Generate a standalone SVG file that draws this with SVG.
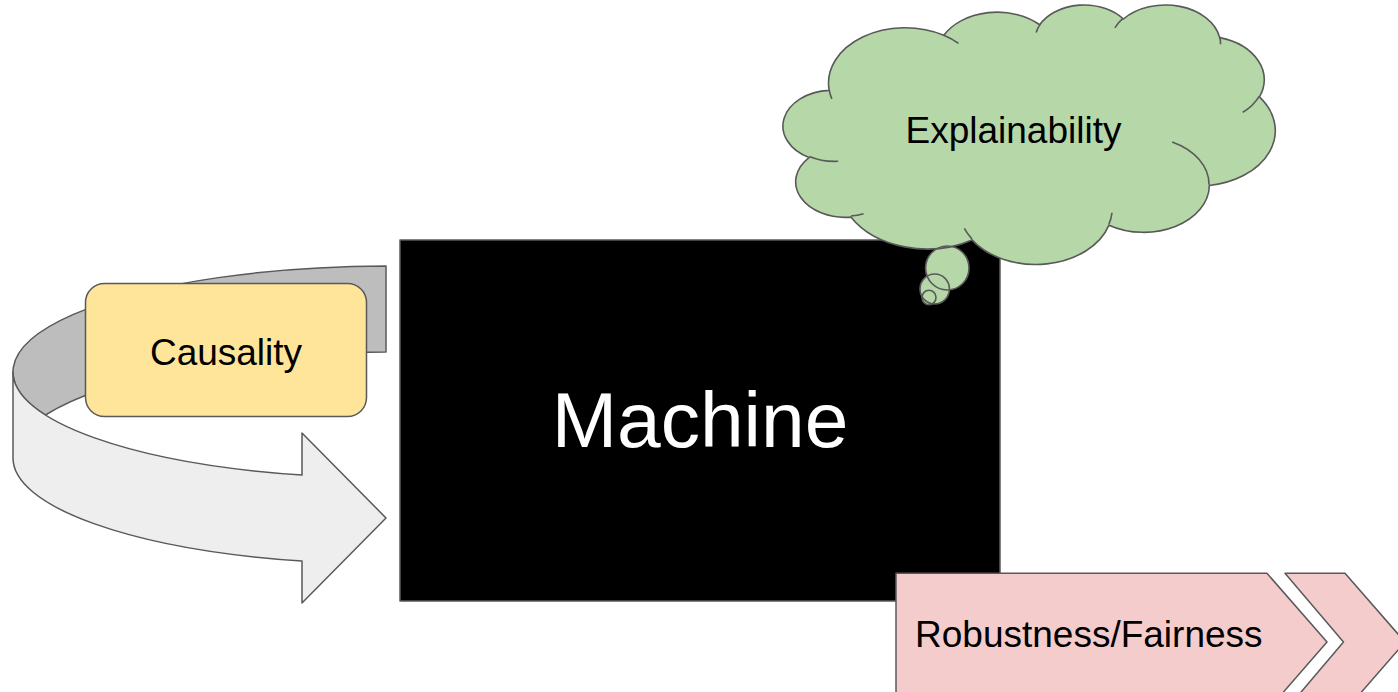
<svg xmlns="http://www.w3.org/2000/svg" width="1398" height="692" viewBox="0 0 1398 692">
  <style>
    .ln { stroke: #595959; stroke-width: 1.5; stroke-linejoin: round; }
    .lbl { font-family: "Liberation Sans", Arial, sans-serif; font-size: 37px; fill: #000000; }
    .cl { fill: #b6d7a8; }
    .cls { fill: none; stroke: #595959; stroke-width: 1.6; }
  </style>
  <rect x="0" y="0" width="1398" height="692" fill="#ffffff"/>

  <g id="connectors">
    <path class="ln" fill="#bdbdbd" d="M386,266 A377,106 0 0 0 45.4,415 A377,106 0 0 1 386,352 Z"/>
    <path class="ln" fill="#eeeeee" d="M13,372 A377,106 0 0 0 302,475.1 L302,433 L386,518 L302,603 L302,561.1 A377,106 0 0 1 13,458 Z"/>
  </g>

  <g id="causality">
    <rect class="ln" x="85.5" y="283.5" width="281" height="133" rx="19" ry="19" fill="#ffe599"/>
    <text class="lbl" x="226" y="364.5" text-anchor="middle">Causality</text>
  </g>

  <g id="machine">
    <rect class="ln" x="400" y="240" width="600" height="361" fill="#000000"/>
    <text x="700" y="447" text-anchor="middle" font-family="'Liberation Sans', Arial, sans-serif" font-size="78.5" fill="#ffffff">Machine</text>
  </g>

  <g id="explainability">
    <g transform="translate(785,4.1) scale(0.011343,0.006005)">
      <path id="cloudShape" class="cl" d="M3900,14370 A6753,9190 0 0 1 14005.6,5202.5 A5333,7267 0 0 1 22460.1,3434.5 A4365,5945 0 0 1 29837.4,2483.4 A4857,6595 0 0 1 38322.9,5578.2 A5333,7273 0 0 1 41823.3,15462 A6775,9220 0 0 1 37408.5,30203.7 A5785,7867 0 0 1 28560.8,36814.5 A6752,9215 0 0 1 16486.2,39266.1 A7720,10543 0 0 1 5809,35471.3 A4360,5918 0 0 1 2117.1,25550.5 A4345,5945 0 0 1 3900,14370 Z"/>
    </g>
    <ellipse class="cl" cx="947.3" cy="268" rx="21.7" ry="22"/>
    <ellipse class="cl" cx="934.7" cy="289" rx="14.7" ry="15"/>
    <ellipse class="cl" cx="929" cy="297.5" rx="7" ry="7.3"/>
    <g transform="translate(785,4.1) scale(0.011343,0.006005)">
      <path class="cls" vector-effect="non-scaling-stroke" d="M3900,14370 A6753,9190 0 0 1 14005.6,5202.5 A5333,7267 0 0 1 22460.1,3434.5 A4365,5945 0 0 1 29837.4,2483.4 A4857,6595 0 0 1 38322.9,5578.2 A5333,7273 0 0 1 41823.3,15462 A6775,9220 0 0 1 37408.5,30203.7 A5785,7867 0 0 1 28560.8,36814.5 A6752,9215 0 0 1 16486.2,39266.1 A7720,10543 0 0 1 5809,35471.3 A4360,5918 0 0 1 2117.1,25550.5 A4345,5945 0 0 1 3900,14370 Z"/>
      <path class="cls" vector-effect="non-scaling-stroke" d="M4693,26177 A4345,5945 0 0 1 2160,25380 M6928,34899 A4360,5918 0 0 1 5819,35281 M16478,39090 A6752,9215 0 0 1 15808,37346 M28827,34751 A6752,9215 0 0 1 28560,36661 M34129,22954 A5785,7867 0 0 1 37381,30090 M41798,15354 A5333,7273 0 0 1 40349,18031 M38324,5426 A4857,6595 0 0 1 38400,6690 M29078,3952 A4857,6595 0 0 1 29820,2340 M22141,4720 A4365,5945 0 0 1 22500,3330 M14000,5192 A6753,9190 0 0 1 15300,6540 M4127,15789 A6753,9190 0 0 1 3900,14371"/>
    </g>
    <ellipse class="cls" cx="947.3" cy="268" rx="21.7" ry="22"/>
    <ellipse class="cls" cx="934.7" cy="289" rx="14.7" ry="15"/>
    <ellipse class="cls" cx="929" cy="297.5" rx="7" ry="7.3"/>
    <text class="lbl" x="1013.5" y="143" text-anchor="middle">Explainability</text>
  </g>

  <g id="robustness">
    <path class="ln" fill="#f4cccc" d="M896,573.3 L1267,573.3 L1327,642 L1267,711 L896,711 Z"/>
    <path class="ln" fill="#f4cccc" d="M1285,573.3 L1345,573.3 L1405,642 L1345,711 L1285,711 L1343.5,642 Z"/>
    <text class="lbl" x="915" y="647" text-anchor="start">Robustness/Fairness</text>
  </g>
</svg>
